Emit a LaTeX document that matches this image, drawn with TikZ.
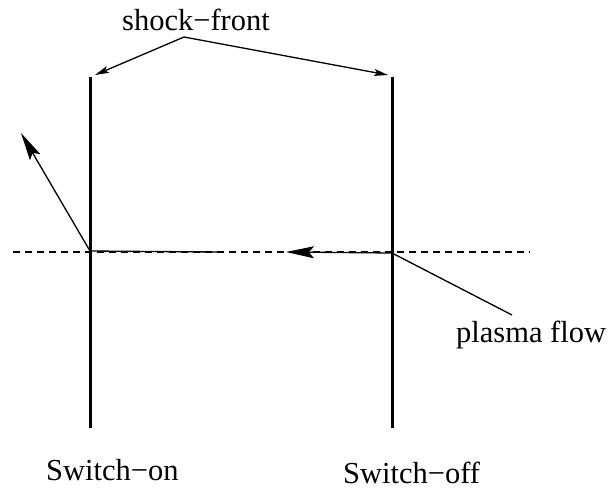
\documentclass[tikz,border=0pt]{standalone}
\usepackage{fontspec}
\setmainfont{Liberation Serif}
\usetikzlibrary{arrows.meta}
\begin{document}
\begin{tikzpicture}[x=1pt,y=-1pt,
  lbl/.style={inner sep=0pt,anchor=base west,font=\fontsize{30.5}{36}\selectfont},
  front/.style={line width=3pt},
  thin/.style={line width=1.3pt},
  bigtip/.style={-{Stealth[length=28pt,width=12pt,inset=5pt]}},
  smalltip/.style={-{Stealth[length=14pt,width=7pt,inset=3pt]}},
  dashline/.style={line width=1.1pt,dash pattern=on 7pt off 5pt}]
\useasboundingbox (0,0) rectangle (610,490);
% labels
\node[lbl] (sf) at (122,30) {shock−front};
\node[lbl] (pf) at (456,342) {plasma flow};
\node[lbl] (son) at (46,480) {Switch−on};
\node[lbl] (soff) at (343,483) {Switch−off};
% coordinates
\coordinate (ltop) at (90,77);
\coordinate (lbot) at (90,428);
\coordinate (rtop) at (392,77);
\coordinate (rbot) at (392,428);
\coordinate (apex) at (184,37);
\coordinate (ltip) at (95,75);
\coordinate (rtip) at (388,75);
\coordinate (dl) at (13,252);
\coordinate (dr) at (530,252);
\coordinate (lhit) at (90,251);
\coordinate (lout) at (21,133);
\coordinate (lmid) at (218,252);
\coordinate (rhit) at (392,253);
\coordinate (rout) at (286,252);
\coordinate (pend) at (512,315);
% dashed axis
\draw[dashline] (dl) -- (dr);
% shock fronts
\draw[front] (ltop) -- (lbot);
\draw[front] (rtop) -- (rbot);
% shock-front pointers
\draw[thin,smalltip] (apex) -- (ltip);
\draw[thin,smalltip] (apex) -- (rtip);
% flows
\draw[thin,bigtip] (lhit) -- (lout);
\draw[thin] (lhit) -- (lmid);
\draw[thin,bigtip] (rhit) -- (rout);
\draw[thin] (rhit) -- (pend);
\end{tikzpicture}
\end{document}
